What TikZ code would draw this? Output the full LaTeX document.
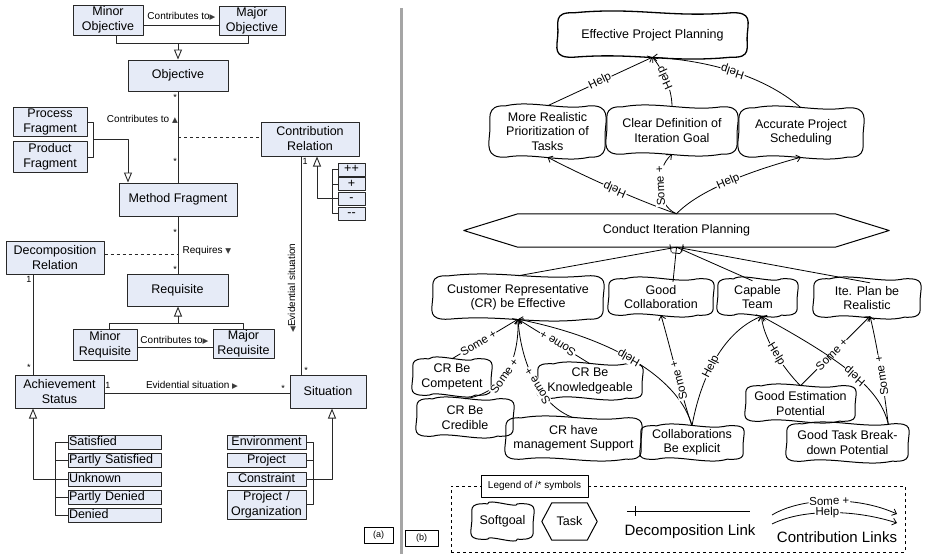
\documentclass[tikz,border=0pt]{standalone}
\usepackage{fontspec}
\setmainfont{Liberation Sans}
\newfontfamily\symfont{DejaVu Sans}
\usetikzlibrary{arrows.meta,calc,decorations.markings}
\definecolor{boxfill}{RGB}{230,235,247}
\definecolor{boxline}{RGB}{40,40,40}
\definecolor{sepgray}{RGB}{165,165,165}
\definecolor{trigray}{RGB}{60,60,60}
\newcommand\tri[1]{{\symfont\fontsize{7.5}{7.5}\selectfont\color{trigray}#1}}
\newcommand\sgpillow[2][]{%
 \draw[sgline,#1] ($(#2.north west)+(14,0)$)
   .. controls ($(#2.north)+(-16,-6)$) and ($(#2.north)+(16,5)$) .. ($(#2.north east)+(-14,0)$)
   .. controls ($(#2.north east)+(7,-1)$) and ($(#2.east)+(3,-13)$) .. ($(#2.east)+(2,0)$)
   .. controls ($(#2.east)+(1,12)$) and ($(#2.south east)+(7,1)$) .. ($(#2.south east)+(-14,0)$)
   .. controls ($(#2.south)+(16,6)$) and ($(#2.south)+(-16,-5)$) .. ($(#2.south west)+(14,0)$)
   .. controls ($(#2.south west)+(-7,1)$) and ($(#2.west)+(-3,13)$) .. ($(#2.west)+(-2,0)$)
   .. controls ($(#2.west)+(-1,-12)$) and ($(#2.north west)+(-7,-1)$) .. cycle;}
\begin{document}
\begin{tikzpicture}[x=1pt,y=-1pt,line join=round,
  umlbox/.style={draw=boxline, fill=boxfill, line width=1pt, inner sep=0pt, align=center, font=\fontsize{12.5}{15}\selectfont},
  subleft/.style={umlbox, text width=91pt, align=left, inner xsep=1pt, minimum height=14pt, text height=9pt, text depth=2.5pt},
  subright/.style={umlbox, text width=77pt, align=center, inner xsep=1pt, minimum height=14pt, text height=9pt, text depth=2.5pt},
  sigbox/.style={umlbox, minimum width=27pt, minimum height=13pt, text height=8pt, text depth=2pt},
  uline/.style={draw=boxline, line width=0.9pt},
  gen/.style={uline, -{Triangle[open, length=10pt, width=8pt]}},
  smalllbl/.style={font=\fontsize{10}{12}\selectfont, inner sep=0pt},
  starlbl/.style={font=\fontsize{9}{10}\selectfont, inner sep=0pt},
  sg/.style={inner sep=0pt, align=center, font=\fontsize{12.5}{14.5}\selectfont},
  sgline/.style={line width=1pt},
  contrib/.style={line width=0.8pt, -{Straight Barb[length=4pt, width=7pt]}},
  lbl/.style={font=\fontsize{11.5}{13}\selectfont, fill=white, inner sep=0.8pt, sloped},
  decomp/.style={line width=0.8pt, postaction={decorate}, decoration={markings, mark=at position -6pt with {\draw (0,-4pt) -- (0,4pt);}}}
]
\useasboundingbox (0,0) rectangle (927,554);
\fill[white] (0,0) rectangle (927,554);
\fill[sepgray] (399.5,8) rectangle (402.5,554);

% ---------------- left panel -----------------
\node[umlbox, minimum width=70pt, minimum height=30pt] (minorobj) at (108,20) {Minor\\Objective};
\node[umlbox, minimum width=66pt, minimum height=29pt] (majorobj) at (252,20.5) {Major\\Objective};
\node[umlbox, minimum width=100pt, minimum height=31pt] (objective) at (178,75.5) {Objective};
\node[umlbox, minimum width=74pt, minimum height=29pt] (process) at (50,121.5) {Process\\Fragment};
\node[umlbox, minimum width=74pt, minimum height=31pt] (product) at (50,156.5) {Product\\Fragment};
\node[umlbox, minimum width=98pt, minimum height=34pt] (contrib) at (310,139) {Contribution\\Relation};
\node[umlbox, minimum width=118pt, minimum height=33pt] (method) at (178,199.5) {Method Fragment};
\node[umlbox, minimum width=98pt, minimum height=33pt] (decomprel) at (55,257.5) {Decomposition\\Relation};
\node[umlbox, minimum width=101pt, minimum height=32pt] (requisite) at (177.5,290) {Requisite};
\node[umlbox, minimum width=64pt, minimum height=31pt] (minorreq) at (105,344.5) {Minor\\Requisite};
\node[umlbox, minimum width=61pt, minimum height=29pt] (majorreq) at (243.5,343.5) {Major\\Requisite};
\node[umlbox, minimum width=89pt, minimum height=33pt] (achieve) at (59.5,391.5) {Achievement\\Status};
\node[umlbox, minimum width=76pt, minimum height=33pt] (situation) at (328,391.5) {Situation};

\node[sigbox] (pp) at (351.5,169.5) {++};
\node[sigbox] (pl) at (351.5,184) {+};
\node[sigbox] (mi) at (351.5,198.5) {-};
\node[sigbox] (mm) at (351.5,213.5) {-{}-};

\node[subleft] (sat) at (114.5,442) {Satisfied};
\node[subleft] (psat) at (114.5,460) {Partly Satisfied};
\node[subleft] (unk) at (114.5,479) {Unknown};
\node[subleft] (pden) at (114.5,497) {Partly Denied};
\node[subleft] (den) at (114.5,515.5) {Denied};

\node[subright] (env) at (266.5,442) {Environment};
\node[subright] (proj) at (266.5,460) {Project};
\node[subright] (constr) at (266.5,479) {Constraint};
\node[umlbox, text width=77pt, inner xsep=1pt, minimum height=29pt] (projorg) at (266.5,504.5) {Project /\\Organization};

% connectors left
\draw[uline] (minorobj.east |- 0,25) -- (majorobj.west |- 0,25);
\node[smalllbl] (lblc1) at (181.5,16) {Contributes to\tri{▶}};
\draw[uline] (minorobj.south -| 116,0) -- (116,43) -- (248,43) -- (majorobj.south -| 248,0);
\coordinate (g1) at (178,43);
\draw[gen] (g1) -- (objective.north);

\draw[uline] (objective.south) -- (method.north);
\node[starlbl] (st1) at (175,97) {*};
\node[starlbl] (st2) at (175,161) {*};
\node[smalllbl, anchor=east] (lblc2) at (178,119) {Contributes to \tri{▲}};
\coordinate (as1) at (178,137);
\draw[uline, dashed] (as1) -- (contrib.west |- as1);

\draw[uline] (process.east |- 0,122) -- (93,122) -- (93,157) -- (product.east |- 0,157);
\coordinate (g2) at (93,139);
\draw[gen] (g2) -- (128,139) -- (method.north -| 128,0);

\draw[uline] (method.south) -- (method.south |- requisite.north);
\node[starlbl] (st3) at (175,232) {*};
\node[starlbl] (st4) at (175,269) {*};
\node[smalllbl, anchor=west] (lblreq) at (182.5,251) {Requires \tri{▼}};
\coordinate (as2) at (178,254);
\draw[uline, dashed] (decomprel.east |- as2) -- (as2);

\draw[uline] (decomprel.south -| 33,0) -- (achieve.north -| 33,0);
\node[starlbl] (st5) at (29,279) {1};
\node[starlbl] (st6) at (29,367) {*};

\draw[uline] (minorreq.north -| 109,0) -- (109,323) -- (243,323) -- (majorreq.north -| 243,0);
\coordinate (g3) at (178,323);
\draw[gen] (g3) -- (requisite.south -| 178,0);
\draw[uline] (minorreq.east |- 0,347) -- (majorreq.west |- 0,347);
\node[smalllbl] (lblc3) at (174.5,340) {Contributes to\tri{▶}};

\draw[uline] (achieve.east |- 0,393) -- (situation.west |- 0,393);
\node[starlbl] (st7) at (108,385) {1};
\node[starlbl] (st8) at (283,388) {*};
\node[smalllbl] (lblev) at (192,385) {Evidential situation \tri{▶}};

\draw[uline] (contrib.south -| 301,0) -- (situation.north -| 301,0);
\node[starlbl] (st9) at (305,161) {1};
\node[starlbl] (st10) at (306,370) {*};
\node[smalllbl, rotate=90] (lblev2) at (292,288) {\tri{◀}Evidential situation};

\draw[uline] (pp.west) -- (pp.west -| 332,0) -- (mm.west -| 332,0) -- (mm.west);
\draw[uline] (pl.west) -- (pl.west -| 332,0);
\draw[gen] (mi.west) -- (mi.west -| 317,0) -- (contrib.south -| 317,0);

\draw[uline] (sat.west) -- (sat.west -| 55,0) -- (den.west -| 55,0) -- (den.west);
\draw[uline] (psat.west) -- (psat.west -| 55,0);
\draw[uline] (pden.west) -- (pden.west -| 55,0);
\draw[gen] (unk.west) -- (unk.west -| 33,0) -- (achieve.south -| 33,0);

\draw[uline] (env.east) -- (env.east -| 313,0) -- (projorg.east -| 313,0) -- (projorg.east);
\draw[uline] (proj.east) -- (proj.east -| 313,0);
\draw[gen] (constr.east) -- (constr.east -| 332,0) -- (situation.south -| 332,0);

\node[draw, line width=0.7pt, minimum width=29pt, minimum height=16pt, inner sep=0pt, font=\fontsize{9}{10}\selectfont] (tagA) at (378.5,535) {(a)};
\node[draw, line width=0.7pt, minimum width=33pt, minimum height=16pt, inner sep=0pt, font=\fontsize{9}{10}\selectfont] (tagB) at (421.5,538.5) {(b)};

% ---------------- right panel -----------------
\node[sg, minimum width=185pt, minimum height=44pt] (epp) at (652.5,35) {Effective Project Planning};
\sgpillow[line width=1.3pt]{epp}
\node[sg, minimum width=111pt, minimum height=51pt] (morereal) at (547.5,131.5) {More Realistic\\Prioritization of\\Tasks};
\sgpillow{morereal}
\node[sg, minimum width=126pt, minimum height=47pt] (cleardef) at (672,130.5) {Clear Definition of\\Iteration Goal};
\sgpillow{cleardef}
\node[sg, minimum width=120pt, minimum height=49pt] (accurate) at (801,132.5) {Accurate Project\\Scheduling};
\sgpillow{accurate}

\node[sg, minimum width=425pt, minimum height=33pt] (cip) at (676.5,230.5) {Conduct Iteration Planning};
\draw[sgline] (cip.west) -- ($(cip.north west)+(54,0)$) -- ($(cip.north east)+(-54,0)$) -- (cip.east) -- ($(cip.south east)+(-54,0)$) -- ($(cip.south west)+(54,0)$) -- cycle;

\node[sg, minimum width=166pt, minimum height=43pt] (creff) at (518,297.5) {Customer Representative\\(CR) be Effective};
\sgpillow{creff}
\node[sg, minimum width=100pt, minimum height=36pt] (goodcollab) at (661,297) {Good\\Collaboration};
\sgpillow{goodcollab}
\node[sg, minimum width=75pt, minimum height=36pt] (capable) at (757.5,297) {Capable\\Team};
\sgpillow{capable}
\node[sg, minimum width=102pt, minimum height=38pt] (iteplan) at (867,298) {Ite. Plan be\\Realistic};
\sgpillow{iteplan}

\node[sg, minimum width=74pt, minimum height=36pt] (competent) at (452,377) {CR Be\\Competent};
\sgpillow{competent}
\node[sg, minimum width=92pt, minimum height=37pt] (credible) at (465,417.5) {CR Be\\Credible};
\sgpillow{credible}
\node[sg, minimum width=100pt, minimum height=34pt] (knowledge) at (590,381) {CR Be\\Knowledgeable};
\sgpillow{knowledge}
\node[sg, minimum width=131pt, minimum height=41pt] (mgmt) at (573.5,438.5) {CR have\\management Support};
\sgpillow{mgmt}
\node[sg, minimum width=98pt, minimum height=33pt] (collabexp) at (692,442.5) {Collaborations\\Be explicit};
\sgpillow{collabexp}
\node[sg, minimum width=105pt, minimum height=35pt] (goodest) at (800.5,403.5) {Good Estimation\\Potential};
\sgpillow{goodest}
\node[sg, minimum width=117pt, minimum height=37pt] (goodtask) at (847.5,442.5) {Good Task Break-\\down Potential};
\sgpillow{goodtask}

% top contributions
\draw[contrib] (morereal.north) -- node[lbl] {Help} (epp.south);
\draw[contrib] (cleardef.north) .. controls ($(cleardef.north)+(0,-21)$) and ($(epp.south)+(8,10)$) .. node[lbl, allow upside down, pos=0.5] {Help} (epp.south);
\draw[contrib] (accurate.north) .. controls ($(accurate.north)+(-31,-27)$) and ($(epp.south)+(67,4)$) .. node[lbl, allow upside down, pos=0.55] {Help} (epp.south);

\draw[contrib] (cip.north) .. controls ($(cip.north)+(-26,-9)$) and ($(morereal.south)+(52,27)$) .. node[lbl, allow upside down, pos=0.55] {Help} (morereal.south);
\draw[contrib] (cip.north) .. controls ($(cip.north)+(-21,-9)$) and ($(cleardef.south)+(-17,15)$) .. node[lbl, allow upside down, pos=0.5] {Some +} (cleardef.south);
\draw[contrib] (cip.north) .. controls ($(cip.north)+(23,-24)$) and ($(accurate.south)+(-51,14)$) .. node[lbl, pos=0.5] {Help} (accurate.south);

% decompositions
\draw[decomp] (creff.north) -- (cip.south);
\draw[decomp] ($(goodcollab.north)+(12,3)$) -- (cip.south);
\draw[decomp] ($(capable.north)+(-5,2)$) -- (cip.south);
\draw[decomp] ($(iteplan.north)+(3,4)$) -- (cip.south);

% lower contributions
\draw[contrib] (competent.north) -- node[lbl, pos=0.4] {Some +} (creff.south);
\draw[contrib] (knowledge.north) -- node[lbl, allow upside down, pos=0.45] {Some +} (creff.south);
\draw[contrib] (credible.north) .. controls ($(credible.north)+(40,-6)$) and ($(creff.south)+(1,40)$) .. node[lbl, pos=0.45] {Some +} (creff.south);
\draw[contrib] (mgmt.north) .. controls ($(mgmt.north)+(-33,-12)$) and ($(creff.south)+(3,45)$) .. node[lbl, allow upside down, pos=0.45] {Some +} (creff.south);
\draw[contrib] (collabexp.north) .. controls ($(collabexp.north)+(-12,-45)$) and ($(creff.south)+(100,20)$) .. node[lbl, allow upside down, pos=0.55] {Help} (creff.south);
\draw[contrib] (collabexp.north) .. controls ($(collabexp.north)+(-9,-25)$) and ($(goodcollab.south)+(10,35)$) .. node[lbl, allow upside down, pos=0.45] {Some +} (goodcollab.south);
\draw[contrib] (collabexp.north) .. controls ($(collabexp.north)+(8,-44)$) and ($(capable.south)+(-37,18)$) .. node[lbl, pos=0.45] {Help} ($(capable.south)+(4,1)$);
\draw[contrib] (goodest.north) .. controls ($(goodest.north)+(-15,-15)$) and ($(capable.south)+(6,25)$) .. node[lbl, pos=0.5] {Help} ($(capable.south)+(4,1)$);
\draw[contrib] (goodest.north) -- node[lbl, pos=0.45] {Some +} ($(iteplan.south)+(3,-1)$);
\draw[contrib] ($(goodtask.north east)+(-18,0)$) .. controls ($(goodtask.north east)+(-26,-33)$) and ($(capable.south)+(92,49)$) .. node[lbl, allow upside down, pos=0.5] {Help} ($(capable.south)+(4,1)$);
\draw[contrib] ($(goodtask.north east)+(-18,0)$) .. controls ($(goodtask.north east)+(-22,-33)$) and ($(iteplan.south)+(11,32)$) .. node[lbl, allow upside down, pos=0.45] {Some +} ($(iteplan.south)+(3,-1)$);

% legend
\node[draw, dashed, line width=0.7pt, minimum width=454pt, minimum height=66pt, inner sep=0pt] (legframe) at (678,519) {};
\node[draw, fill=white, line width=0.7pt, minimum width=107pt, minimum height=22pt, inner sep=0pt, font=\fontsize{10}{12}\selectfont] (legtitle) at (534.5,486) {Legend of \textit{i}* symbols};
\node[sg, minimum width=57pt, minimum height=35pt] (lsoft) at (502.5,521.5) {Softgoal};
\sgpillow{lsoft}
\node[sg, minimum width=55pt, minimum height=37pt] (ltask) at (569.5,521.5) {Task};
\draw[sgline] (ltask.west) -- ($(ltask.north west)+(10,0)$) -- ($(ltask.north east)+(-10,0)$) -- (ltask.east) -- ($(ltask.south east)+(-10,0)$) -- ($(ltask.south west)+(10,0)$) -- cycle;
\coordinate (ld1) at (627,511);
\coordinate (ld2) at (750,511);
\draw[line width=0.8pt] (ld1) -- (ld2);
\draw[line width=0.8pt] ($(ld1)+(8,-5)$) -- ($(ld1)+(8,5)$);
\node[font=\fontsize{15}{17}\selectfont, inner sep=0pt] (ldtext) at (690,532) {Decomposition Link};
\coordinate (lc1) at (772,515);
\coordinate (lc2) at (897,514);
\coordinate (lc3) at (772,524);
\coordinate (lc4) at (897,523);
\draw[contrib] (lc1) .. controls (800,498) and (855,495) .. node[lbl, pos=0.5] {Some +} (lc2);
\draw[contrib] (lc3) .. controls (800,510) and (850,508) .. node[lbl, pos=0.5] {Help} (lc4);
\node[font=\fontsize{15}{17}\selectfont, inner sep=0pt] (lctext) at (837,537) {Contribution Links};
\end{tikzpicture}
\end{document}
